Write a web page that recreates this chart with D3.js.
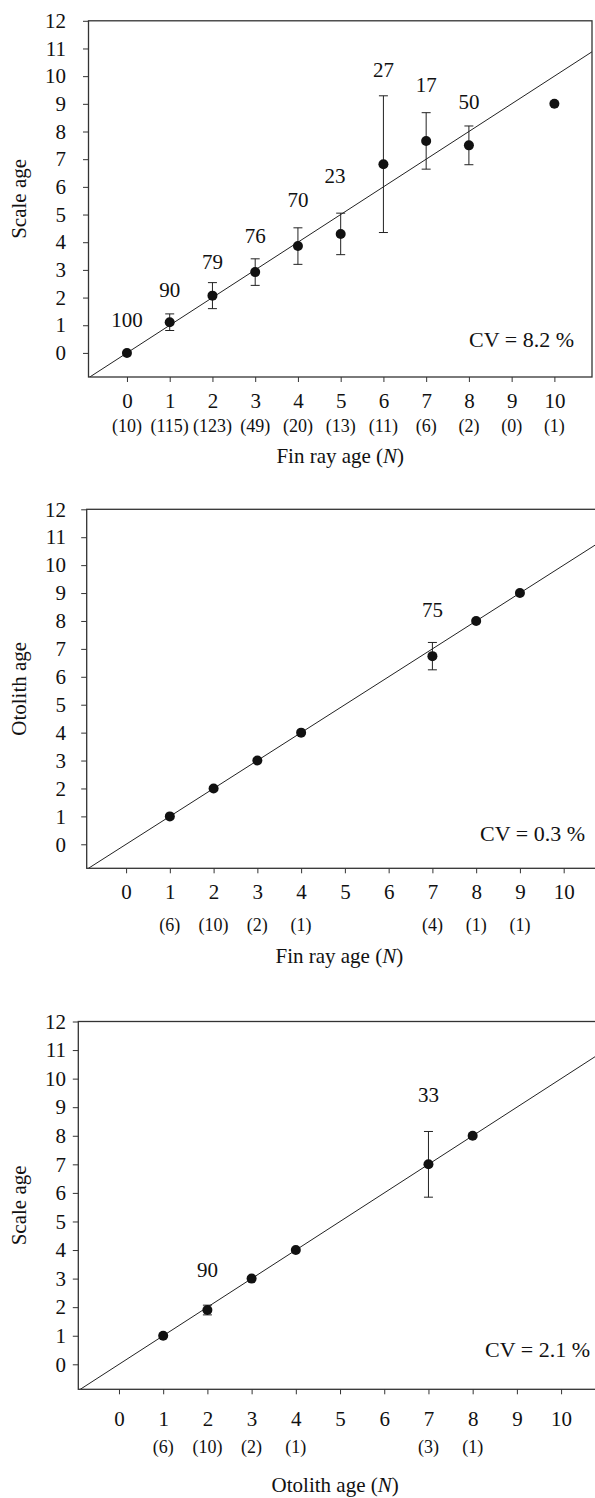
<!DOCTYPE html>
<html>
<head>
<meta charset="utf-8">
<style>
  body { margin: 0; background: #fff; }
  text { font-family: "Liberation Serif", "DejaVu Serif", serif; fill: #111; }
</style>
</head>
<body>
<svg id="chart" width="595" height="1498"></svg>
<script src="https://d3js.org/d3.v7.min.js"></script>
<script>

// tick labels shared by all three panels
var ageTicks = [0, 1, 2, 3, 4, 5, 6, 7, 8, 9, 10];
var yTicks = [0, 1, 2, 3, 4, 5, 6, 7, 8, 9, 10, 11, 12];

// panel 1: scale age vs fin ray age
var ages1 = [0, 1, 2, 3, 4, 5, 6, 7, 8, 10];
var mean1 = [0, 1.11, 2.07, 2.92, 3.86, 4.3, 6.82, 7.66, 7.5, 9.0];
var sd1 = [0, 0.3, 0.47, 0.48, 0.66, 0.75, 2.47, 1.02, 0.7, 0];
var countAges1 = [0, 1, 2, 3, 4, 5, 6, 7, 8, 9, 10];
var counts1 = [10, 115, 123, 49, 20, 13, 11, 6, 2, 0, 1];
var pctX1 = [0, 1, 2, 3, 4, 4.87, 6, 7, 8];
var pctY1 = [1.22, 2.27, 3.28, 4.22, 5.52, 6.39, 10.22, 9.68, 9.07];
var pct1 = [100, 90, 79, 76, 70, 23, 27, 17, 50];
var cv1 = "CV = 8.2 %";

// panel 2: otolith age vs fin ray age
var ages2 = [1, 2, 3, 4, 7, 8, 9];
var mean2 = [1, 2, 3, 4, 6.74, 8, 9];
var sd2 = [0, 0, 0, 0, 0.49, 0, 0];
var countAges2 = [1, 2, 3, 4, 7, 8, 9];
var counts2 = [6, 10, 2, 1, 4, 1, 1];
var pctX2 = [7];
var pctY2 = [8.42];
var pct2 = [75];
var cv2 = "CV = 0.3 %";

// panel 3: scale age vs otolith age
var ages3 = [1, 2, 3, 4, 7, 8];
var mean3 = [1, 1.9, 3, 4, 7, 8];
var sd3 = [0, 0.17, 0, 0, 1.15, 0];
var countAges3 = [1, 2, 3, 4, 7, 8];
var counts3 = [6, 10, 2, 1, 3, 1];
var pctX3 = [2, 7];
var pctY3 = [3.3, 9.45];
var pct3 = [90, 33];
var cv3 = "CV = 2.1 %";

var svg = d3.select("#chart"),
    fs = 21,
    nfs = 18;

var panels = [
  {id: 1, ages: ages1, mean: mean1, sd: sd1, countAges: countAges1, counts: counts1,
   pctX: pctX1, pctY: pctY1, pct: pct1, cv: cv1, yTitle: "Scale age", xTitle: "Fin ray age",
   left: 88.5, right: 592, top: 20.8, bottom: 377, xDom: [-0.9, 10.88], yDom: [-0.87, 12],
   tickY: 408, countY: 432, titleY: 463, cvX: 574, cvY: 347},
  {id: 2, ages: ages2, mean: mean2, sd: sd2, countAges: countAges2, counts: counts2,
   pctX: pctX2, pctY: pctY2, pct: pct2, cv: cv2, yTitle: "Otolith age", xTitle: "Fin ray age",
   left: 86.7, right: 600, top: 509.3, bottom: 868.3, xDom: [-0.9, 10.83], yDom: [-0.86, 12],
   tickY: 899, countY: 931, titleY: 963, cvX: 585, cvY: 841},
  {id: 3, ages: ages3, mean: mean3, sd: sd3, countAges: countAges3, counts: counts3,
   pctX: pctX3, pctY: pctY3, pct: pct3, cv: cv3, yTitle: "Scale age", xTitle: "Otolith age",
   left: 78.3, right: 600, top: 1021.5, bottom: 1389.3, xDom: [-0.92, 10.88], yDom: [-0.875, 12],
   tickY: 1426, countY: 1453, titleY: 1492, cvX: 590, cvY: 1357}
];

panels.forEach(drawPanel);

function drawPanel(p) {
  var x = d3.scaleLinear().domain(p.xDom).range([p.left, p.right]),
      y = d3.scaleLinear().domain(p.yDom).range([p.bottom, p.top]),
      g = svg.append("g");

  var pts = p.ages.map(function(a, i) { return {age: a, mean: p.mean[i], sd: p.sd[i]}; });

  g.append("clipPath")
      .attr("id", "clip" + p.id)
    .append("rect")
      .attr("x", p.left)
      .attr("y", p.top)
      .attr("width", p.right - p.left)
      .attr("height", p.bottom - p.top);

  // 1:1 line
  var line = d3.line()
      .x(function(d) { return x(d); })
      .y(function(d) { return y(d); });

  g.append("path")
      .datum([-2, 13])
      .attr("clip-path", "url(#clip" + p.id + ")")
      .attr("fill", "none")
      .attr("stroke", "#222")
      .attr("stroke-width", 1)
      .attr("d", line);

  // y axis
  var yTick = 5.5;
  var ya = g.append("g")
      .attr("transform", "translate(" + p.left + ",0)")
      .call(d3.axisLeft(y).tickValues(yTicks).tickSize(yTick)
        .tickPadding(p.left - yTick - 66));
  ya.select(".domain").remove();
  ya.selectAll("line").attr("stroke", "#333");
  ya.selectAll("text").style("font-size", fs + "px").attr("fill", "#111");

  // x axis
  var xTick = 5;
  var xa = g.append("g")
      .attr("transform", "translate(0," + p.bottom + ")")
      .call(d3.axisBottom(x).tickValues(ageTicks).tickSize(xTick)
        .tickPadding(p.tickY - p.bottom - xTick - 0.71 * fs));
  xa.select(".domain").remove();
  xa.selectAll("line").attr("stroke", "#333");
  xa.selectAll("text").style("font-size", fs + "px").attr("fill", "#111");

  // frame
  g.append("rect")
      .attr("x", p.left)
      .attr("y", p.top)
      .attr("width", p.right - p.left)
      .attr("height", p.bottom - p.top)
      .attr("fill", "none")
      .attr("stroke", "#333")
      .attr("stroke-width", 1.3);

  // error bars
  var bars = g.selectAll(".bar")
    .data(pts.filter(function(d) { return d.sd > 0; }))
    .enter().append("g");

  bars.append("line")
      .attr("x1", function(d) { return x(d.age); })
      .attr("x2", function(d) { return x(d.age); })
      .attr("y1", function(d) { return y(d.mean - d.sd); })
      .attr("y2", function(d) { return y(d.mean + d.sd); })
      .attr("stroke", "#222");

  [-1, 1].forEach(function(s) {
    bars.append("line")
        .attr("x1", function(d) { return x(d.age) - 4.5; })
        .attr("x2", function(d) { return x(d.age) + 4.5; })
        .attr("y1", function(d) { return y(d.mean + s * d.sd); })
        .attr("y2", function(d) { return y(d.mean + s * d.sd); })
        .attr("stroke", "#222");
  });

  g.selectAll(".dot")
    .data(pts)
    .enter().append("circle")
      .attr("cx", function(d) { return x(d.age); })
      .attr("cy", function(d) { return y(d.mean); })
      .attr("r", 5)
      .attr("fill", "#111");

  // percent agreement labels
  g.selectAll(".pct")
    .data(p.pct)
    .enter().append("text")
      .attr("x", function(d, i) { return x(p.pctX[i]); })
      .attr("y", function(d, i) { return y(p.pctY[i]); })
      .attr("dy", "0.35em")
      .attr("text-anchor", "middle")
      .style("font-size", fs + "px")
      .text(function(d) { return d; });

  // sample sizes
  g.selectAll(".n")
    .data(p.counts)
    .enter().append("text")
      .attr("x", function(d, i) { return x(p.countAges[i]); })
      .attr("y", p.countY)
      .attr("text-anchor", "middle")
      .style("font-size", nfs + "px")
      .text(function(d) { return "(" + d + ")"; });

  g.append("text")
      .attr("x", p.cvX)
      .attr("y", p.cvY)
      .attr("text-anchor", "end")
      .style("font-size", (fs + 1) + "px")
      .text(p.cv);

  var t = g.append("text")
      .attr("x", (p.left + Math.min(p.right, 592)) / 2)
      .attr("y", p.titleY)
      .attr("text-anchor", "middle")
      .style("font-size", fs + "px");
  t.append("tspan").text(p.xTitle + " (");
  t.append("tspan").style("font-style", "italic").text("N");
  t.append("tspan").text(")");

  g.append("text")
      .attr("transform", "translate(26," + (p.top + p.bottom) / 2 + ") rotate(-90)")
      .attr("text-anchor", "middle")
      .style("font-size", fs + "px")
      .text(p.yTitle);
}

</script>
</body>
</html>
